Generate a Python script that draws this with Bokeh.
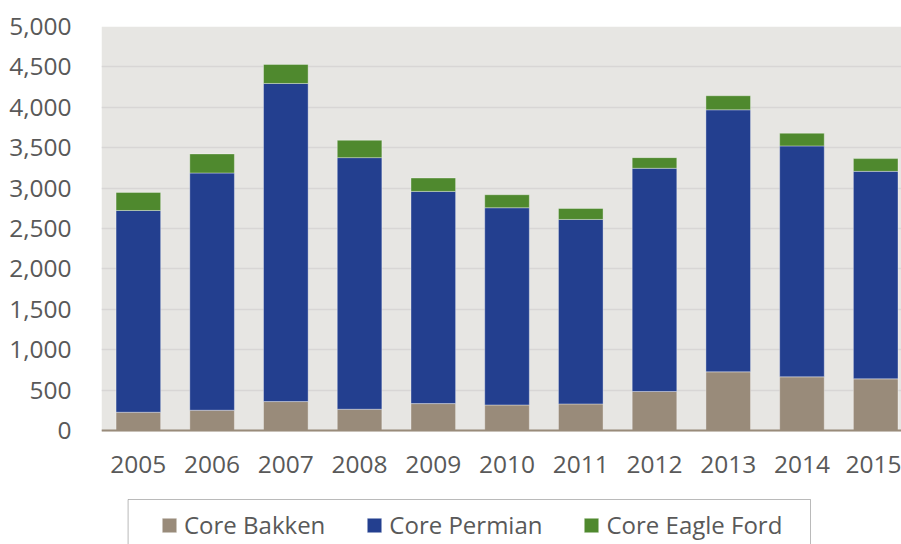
from bokeh.plotting import figure
from bokeh.models import (Range1d, FixedTicker, NumeralTickFormatter, ColumnDataSource,
                          Legend, LegendItem, BoxAnnotation)
from bokeh.embed import file_html
from bokeh.resources import INLINE

years = ["2005", "2006", "2007", "2008", "2009", "2010", "2011", "2012", "2013", "2014", "2015"]
bakken = [226, 251, 358, 263, 333, 316, 329, 483, 726, 664, 639]
permian = [2497, 2936, 3937, 3114, 2626, 2441, 2283, 2762, 3243, 2858, 2568]
eagle_ford = [224, 236, 236, 215, 166, 161, 136, 132, 174, 157, 158]
series = ["Core Bakken", "Core Permian", "Core Eagle Ford"]
colors = ["#998B7A", "#233F8F", "#4F892E"]
y_ticks = [0, 500, 1000, 1500, 2000, 2500, 3000, 3500, 4000, 4500, 5000]

FONT = "Open Sans"
TXT = "#595959"

# frame spans from the 5,000 line (y=26) to the canvas bottom (y=544); 0 sits at y=430
Y_TOP = 5000
Y_BOTTOM = -Y_TOP * (544 - 430) / (430 - 26)

src = ColumnDataSource(dict(x=list(range(len(years))), b=bakken, p=permian, e=eagle_ford))

p = figure(width=901, height=544, output_backend="svg", toolbar_location=None,
           x_range=Range1d(-0.5, 10.35), y_range=Range1d(Y_BOTTOM, Y_TOP),
           min_border_left=101, min_border_right=0, min_border_top=26, min_border_bottom=0)
p.background_fill_color = "white"
p.border_fill_color = "white"
p.outline_line_color = None

plot_area = BoxAnnotation(bottom=0, top=Y_TOP, fill_color="#E7E6E3", fill_alpha=1.0,
                          line_color=None, level="image")
p.add_layout(plot_area)

rs = p.vbar_stack(["b", "p", "e"], x="x", width=0.605, source=src, color=colors,
                  line_color="white", line_alpha=0.35, line_width=1)

p.xgrid.grid_line_color = None
p.ygrid.grid_line_color = "#D8D6D5"
p.ygrid.grid_line_width = 1.5
p.ygrid.ticker = FixedTicker(ticks=y_ticks)

p.yaxis.ticker = FixedTicker(ticks=y_ticks)
p.yaxis.formatter = NumeralTickFormatter(format="0,0")
p.yaxis.axis_line_color = None
p.yaxis.major_tick_line_color = None
p.yaxis.minor_tick_line_color = None
p.yaxis.major_label_standoff = 24

p.xaxis.fixed_location = 0
p.xaxis.ticker = FixedTicker(ticks=list(range(len(years))))
p.xaxis.major_label_overrides = {i: y for i, y in enumerate(years)}
p.xaxis.axis_line_color = "#998B7A"
p.xaxis.axis_line_width = 2
p.xaxis.major_tick_line_color = None
p.xaxis.minor_tick_line_color = None
p.xaxis.major_label_standoff = 19

for ax in (p.xaxis, p.yaxis):
    ax.major_label_text_font = FONT
    ax.major_label_text_font_size = "24.5px"
    ax.major_label_text_color = TXT

# legend frame, in screen units measured from the frame's bottom-left corner
legend_box = BoxAnnotation(left=26.6, right=709, top=45, bottom=-40,
                           left_units="screen", right_units="screen",
                           top_units="screen", bottom_units="screen",
                           fill_color="white", fill_alpha=1.0,
                           line_color="#1A1A1A", line_width=1, level="guide")
p.add_layout(legend_box)

legend = Legend(items=[LegendItem(label=s, renderers=[r]) for s, r in zip(series, rs)],
                location=(59, 3), orientation="horizontal",
                padding=8, spacing=40, margin=0,
                glyph_width=18, glyph_height=18, label_standoff=6,
                label_text_font=FONT, label_text_font_size="24px",
                label_text_color=TXT, border_line_color=None,
                background_fill_alpha=0.0)
p.add_layout(legend, "center")

open("out.html", "w").write(file_html(p, INLINE))
